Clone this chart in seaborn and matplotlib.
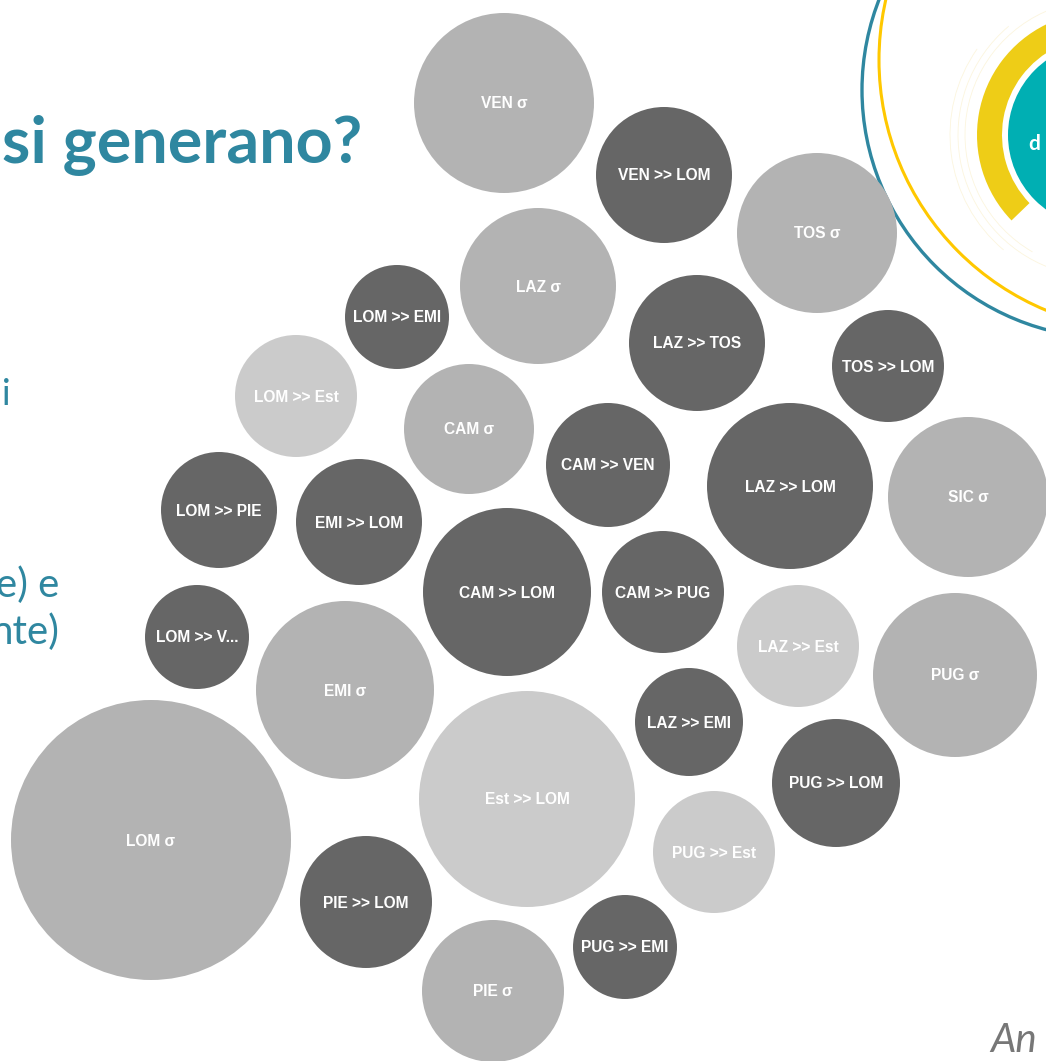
import matplotlib
matplotlib.use("Agg")
import matplotlib.pyplot as plt
from matplotlib.patches import Wedge, Circle, Arc
from matplotlib import font_manager
import seaborn as sns
import pandas as pd
import numpy as np

SELF = "\u03c3"

labels = [
    f"VEN {SELF}", "VEN >> LOM", f"TOS {SELF}", f"LAZ {SELF}", "LOM >> EMI",
    "LAZ >> TOS", "TOS >> LOM", "LOM >> Est", f"CAM {SELF}", "CAM >> VEN",
    "LAZ >> LOM", f"SIC {SELF}", "LOM >> PIE", "EMI >> LOM", "CAM >> LOM",
    "CAM >> PUG", "LAZ >> Est", f"PUG {SELF}", "LOM >> V...", f"EMI {SELF}",
    "LAZ >> EMI", "Est >> LOM", "PUG >> LOM", f"LOM {SELF}", "PUG >> Est",
    "PIE >> LOM", "PUG >> EMI", f"PIE {SELF}",
]
kinds = [
    "self", "flow", "self", "self", "flow",
    "flow", "flow", "est", "self", "flow",
    "flow", "self", "flow", "flow", "flow",
    "flow", "est", "self", "flow", "self",
    "flow", "est", "flow", "self", "est",
    "flow", "flow", "self",
]
# bubble radius (value)
bubble_size = [
    90, 68, 80, 78, 52,
    68, 56, 61, 65, 62,
    83, 80, 58, 63, 84,
    61, 61, 82, 52, 89,
    54, 108, 64, 140, 61,
    66, 52, 71,
]
# packed layout centres
cx = [
    504, 664, 817, 538, 397,
    697, 888, 296, 469, 608,
    790, 968, 219, 359, 507,
    663, 798, 955, 197, 345,
    689, 527, 836, 151, 714,
    366, 625, 493,
]
cy = [
    103, 175, 233, 286, 317,
    343, 366, 396, 429, 465,
    486, 497, 510, 522, 592,
    592, 646, 675, 637, 690,
    722, 799, 783, 840, 852,
    902, 947, 991,
]

df = pd.DataFrame({"label": labels, "kind": kinds, "r": bubble_size, "x": cx, "y": cy})

W, H = 1046, 1061
fig = plt.figure(figsize=(W / 100, H / 100), dpi=100)
ax = fig.add_axes([0, 0, 1, 1])

palette = {"self": "#b3b3b3", "flow": "#666666", "est": "#cbcbcb"}
sizes = (2 * df["r"].to_numpy() * 72 / 100) ** 2
sns.scatterplot(data=df, x="x", y="y", hue="kind", palette=palette, s=sizes,
                linewidth=0, legend=False, ax=ax, alpha=1, zorder=2)
ax.set_xlim(0, W)
ax.set_ylim(H, 0)
ax.axis("off")

installed = {f.name for f in font_manager.fontManager.ttflist}
if "Liberation Sans Narrow" in installed:
    lab_family, lab_size = ["Liberation Sans Narrow", "DejaVu Sans"], 12.5
else:
    lab_family, lab_size = ["Liberation Sans", "DejaVu Sans"], 11.2

for _, row in df.iterrows():
    ax.text(row.x, row.y + 1, row.label, ha="center", va="center", color="white",
            fontsize=lab_size, fontweight="bold", family=lab_family, zorder=3)

# Slide title fragments
teal = "#2F87A0"
ax.text(362, 163, "si generano?", ha="right", va="baseline", color=teal,
        fontsize=46.5, fontweight="bold", family=["Lato", "DejaVu Sans"], zorder=1)
ax.text(2, 405, "i", ha="left", va="baseline", color=teal, fontsize=26,
        family=["Lato", "DejaVu Sans"], zorder=1)
ax.text(59, 597, "e) e", ha="right", va="baseline", color=teal, fontsize=29,
        family=["Lato", "DejaVu Sans"], zorder=1)
ax.text(59, 644, "nte)", ha="right", va="baseline", color=teal, fontsize=29,
        family=["Lato", "DejaVu Sans"], zorder=1)
ax.text(990, 1040, "An", ha="left", va="center", color="#777777", fontsize=29,
        style="italic", family=["Lato", "DejaVu Sans"], zorder=1)

# Logo (top right)
ax.add_patch(Circle((1110, 90), 248, fill=False, ec="#2F87A0", lw=2.4, zorder=1))
ax.add_patch(Circle((1150, 60), 271, fill=False, ec="#FFC800", lw=2.2, zorder=1))
for rr, t1, t2 in [(135, 120, 250), (142, 110, 230), (150, 130, 215)]:
    ax.add_patch(Arc((1100, 135), 2 * rr, 2 * rr, theta1=t1, theta2=t2,
                     ec="#F5E3A0", lw=0.6, alpha=0.35, zorder=1))
ax.add_patch(Wedge((1100, 135), 123, 136, 244, width=25, fc="#EECD17", ec="none", zorder=1))
ax.add_patch(Circle((1100, 135), 92, fc="#00AFB3", ec="none", zorder=1))
ax.text(1028, 144, "d", ha="left", va="center", color="white", fontsize=15,
        fontweight="bold", family=["Lato", "DejaVu Sans"], zorder=2)

fig.savefig("out.png", dpi=100)
